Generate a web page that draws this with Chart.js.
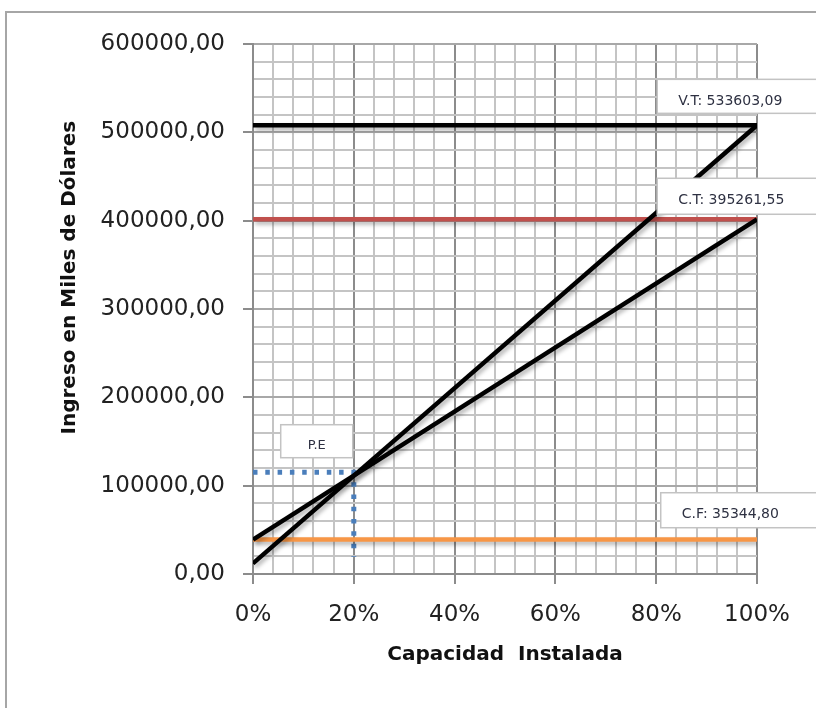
<!DOCTYPE html>
<html>
<head>
<meta charset="utf-8">
<script src="https://cdn.jsdelivr.net/npm/chart.js"></script>
<style>
  body { margin: 0; background: #fff; }
  #wrap { width: 816px; height: 708px; }
</style>
</head>
<body>
<div id="wrap"><canvas id="plot1" width="816" height="708"></canvas></div>
<script>
// Capacidad instalada en porcentaje (eje X)
let capacidad = [0, 100];

// Lineas diagonales
let ventasTotales = [12000, 508000];
let costosTotales = [39000, 401500];

// Lineas horizontales
let nivelVentas = [508000, 508000];
let nivelCostos = [401500, 401500];
let costoFijo = [39000, 39000];

// Punto de equilibrio (linea punteada)
let peCapacidad = [0, 20, 20];
let peIngreso = [115200, 115200, 19600];

// Textos de los recuadros
let etiquetas = ["V.T: 533603,09", "C.T: 395261,55", "C.F: 35344,80", "P.E"];

let puntos = (xs, ys) => xs.map((x, i) => ({ x: x, y: ys[i] }));

let fuente = "'DejaVu Sans', sans-serif";

//Sombra de las lineas como en Excel
let sombraPlugin = {
  id: "sombra",
  beforeDatasetDraw: (chart, args) => {
    let ctx = chart.ctx;
    ctx.save();
    if (args.index < 5) {
      ctx.shadowColor = "rgba(0,0,0,0.3)";
      ctx.shadowBlur = 4;
      ctx.shadowOffsetX = 2;
      ctx.shadowOffsetY = 3;
    }
  },
  afterDatasetDraw: (chart) => {
    chart.ctx.restore();
  },
};

//Marco exterior y recuadros de texto
let marcoPlugin = {
  id: "marco",
  beforeDraw: (chart) => {
    let ctx = chart.ctx;
    ctx.save();
    ctx.fillStyle = "#fff";
    ctx.fillRect(0, 0, chart.width, chart.height);
    ctx.strokeStyle = "#a6a6a6";
    ctx.lineWidth = 2;
    ctx.strokeRect(6, 12, 900, 900);
    ctx.restore();
  },
  afterDatasetsDraw: (chart) => {
    let ctx = chart.ctx;
    let xs = chart.scales.x;
    let ys = chart.scales.y;
    // [x %, y valor de la esquina superior, ancho, alto, centro del texto]
    let cajas = [
      [80.2, 560000, 200, 34, 22],
      [80.2, 448000, 200, 36, 22],
      [80.9, 92000, 200, 35, 22],
      [5.5, 169000, 72, 33, 21],
    ];
    ctx.save();
    cajas.forEach((c, i) => {
      let left = xs.getPixelForValue(c[0]);
      let top = ys.getPixelForValue(c[1]);
      ctx.fillStyle = "#fff";
      ctx.fillRect(left, top, c[2], c[3]);
      ctx.strokeStyle = "#c3c3c3";
      ctx.lineWidth = 1.5;
      ctx.strokeRect(left, top, c[2], c[3]);
      ctx.fillStyle = "#2e3142";
      ctx.textBaseline = "middle";
      if (i === 3) {
        ctx.font = "13px " + fuente;
        ctx.textAlign = "center";
        ctx.fillText(etiquetas[i], left + c[2] / 2, top + c[4]);
      } else {
        ctx.font = "14px " + fuente;
        ctx.textAlign = "left";
        ctx.fillText(etiquetas[i], left + 21, top + c[4]);
      }
    });
    ctx.restore();
  },
};

let plotRef = document.getElementById("plot1");

let config = {
  type: "line",
  data: {
    datasets: [
      {
        label: "Ventas",
        data: puntos(capacidad, ventasTotales),
        borderColor: "#000",
        borderWidth: 4.5,
      },
      {
        label: "Costos",
        data: puntos(capacidad, costosTotales),
        borderColor: "#000",
        borderWidth: 4.5,
      },
      {
        label: "V.T",
        data: puntos(capacidad, nivelVentas),
        borderColor: "#000",
        borderWidth: 4.5,
      },
      {
        label: "C.T",
        data: puntos(capacidad, nivelCostos),
        borderColor: "#c0504d",
        borderWidth: 4.5,
      },
      {
        label: "C.F",
        data: puntos(capacidad, costoFijo),
        borderColor: "#f79646",
        borderWidth: 4.5,
      },
      {
        label: "P.E",
        data: puntos(peCapacidad, peIngreso),
        borderColor: "#4a7ebb",
        borderWidth: 5,
        borderDash: [4.5, 7.8],
      },
    ],
  },
  options: {
    responsive: false,
    animation: false,
    events: [],
    elements: { point: { radius: 0 }, line: { tension: 0 } },
    layout: { padding: { left: 0, top: 44, right: 59, bottom: 0 } },
    plugins: { legend: { display: false }, tooltip: { enabled: false } },
    scales: {
      x: {
        type: "linear",
        min: 0,
        max: 100,
        afterFit: (scale) => { scale.height = 134; },
        ticks: {
          stepSize: 4,
          autoSkip: false,
          maxRotation: 0,
          padding: 17,
          color: "#222",
          font: { family: fuente, size: 23 },
          callback: (v) => (v % 20 === 0 ? v + "%" : ""),
        },
        grid: {
          lineWidth: 2,
          tickLength: 10,
          color: (c) => (c.tick && c.tick.value % 20 === 0 ? "#8c8c8c" : "#c4c4c4"),
          tickColor: (c) => (c.tick && c.tick.value % 20 === 0 ? "#8c8c8c" : "rgba(0,0,0,0)"),
        },
        border: { color: "#8c8c8c", width: 2 },
        title: {
          display: true,
          text: "Capacidad  Instalada",
          color: "#111",
          font: { family: fuente, size: 20, weight: "bold" },
          padding: { top: 0, bottom: 41 },
        },
      },
      y: {
        min: 0,
        max: 600000,
        afterFit: (scale) => { scale.width = 253; },
        ticks: {
          stepSize: 20000,
          autoSkip: false,
          padding: 18,
          color: "#222",
          font: { family: fuente, size: 23 },
          callback: (v) => (v % 100000 === 0 ? v.toFixed(2).replace(".", ",") : ""),
        },
        grid: {
          lineWidth: 2,
          tickLength: 10,
          color: (c) => (c.tick && c.tick.value % 100000 === 0 ? "#a8a8a8" : "#c4c4c4"),
          tickColor: (c) => (c.tick && c.tick.value % 100000 === 0 ? "#8c8c8c" : "rgba(0,0,0,0)"),
        },
        border: { color: "#8c8c8c", width: 2 },
        title: {
          display: true,
          text: "         Ingreso en Miles de Dólares",
          color: "#111",
          font: { family: fuente, size: 20, weight: "bold" },
          padding: { top: 58, bottom: 0 },
        },
      },
    },
  },
  plugins: [marcoPlugin, sombraPlugin],
};

//Objeto con la instanciación del gráfico
let chart1 = new Chart(plotRef, config);
</script>
</body>
</html>
